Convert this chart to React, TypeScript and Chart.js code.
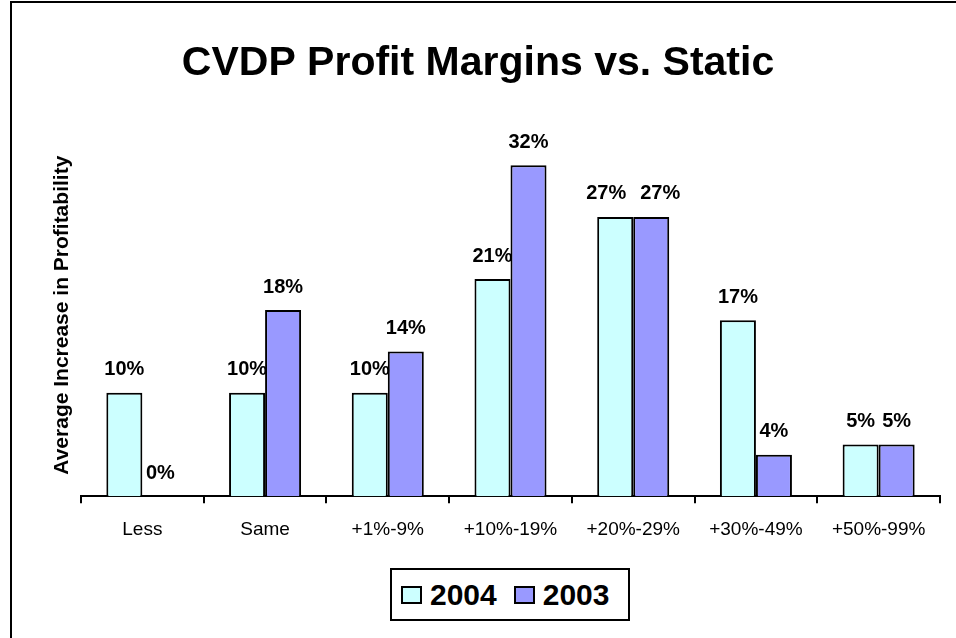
import React, { useEffect, useRef } from "react";
import { Chart, registerables } from "chart.js";

Chart.register(...registerables);

const categories = ["Less", "Same", "+1%-9%", "+10%-19%", "+20%-29%", "+30%-49%", "+50%-99%"];
const series2004 = [10, 10, 10, 21, 27, 17, 5];
const series2003 = [0, 18, 14, 32, 27, 4, 5];
const seriesNames = ["2004", "2003"];
const seriesColors = ["#CCFFFF", "#9999FF"];
const titleText = "CVDP Profit Margins vs. Static";
const yTitleText = "Average Increase in Profitability";

const FONT = '"Liberation Sans", Arial, Helvetica, sans-serif';

const framePlugin = {
  id: "frame",
  afterDraw(chart: any) {
    const ctx = chart.ctx;
    ctx.save();
    ctx.fillStyle = "#000";
    ctx.fillRect(10, 1, 2, chart.height);
    ctx.fillRect(10, 1, chart.width, 2);
    ctx.restore();
  },
};

const labelPlugin = {
  id: "valueLabels",
  afterDatasetsDraw(chart: any) {
    const ctx = chart.ctx;
    ctx.save();
    ctx.font = `bold 20px ${FONT}`;
    ctx.fillStyle = "#000";
    ctx.textAlign = "center";
    ctx.textBaseline = "middle";
    const ds = chart.data.datasets;
    const m0 = chart.getDatasetMeta(0).data;
    const m1 = chart.getDatasetMeta(1).data;
    for (let j = 0; j < m0.length; j++) {
      const t0 = ds[0].data[j] + "%";
      const t1 = ds[1].data[j] + "%";
      let x0 = m0[j].x;
      let x1 = m1[j].x;
      const y0 = m0[j].y - 23;
      const y1 = m1[j].y - 23;
      const w0 = ctx.measureText(t0).width;
      const w1 = ctx.measureText(t1).width;
      const gap = x1 - w1 / 2 - (x0 + w0 / 2);
      if (Math.abs(y0 - y1) < 20 && gap < 0) {
        const push = (14 - gap) / 2;
        x0 -= push;
        x1 += push;
      }
      ctx.fillText(t0, x0, y0);
      ctx.fillText(t1, x1, y1);
    }
    ctx.restore();
  },
};

export default function App() {
  const ref = useRef<HTMLCanvasElement | null>(null);

  useEffect(() => {
    document.body.style.margin = "0";
    const canvas = ref.current;
    if (!canvas) return;
    const chart = new Chart(canvas, {
      type: "bar",
      data: {
        labels: categories,
        datasets: [
          {
            label: seriesNames[0],
            data: series2004,
            backgroundColor: seriesColors[0],
            borderColor: "#000",
            borderWidth: 2,
          },
          {
            label: seriesNames[1],
            data: series2003,
            backgroundColor: seriesColors[1],
            borderColor: "#000",
            borderWidth: 2,
          },
        ],
      },
      options: {
        animation: false,
        responsive: false,
        maintainAspectRatio: false,
        datasets: {
          bar: { barPercentage: 1, categoryPercentage: 0.587 },
        },
        layout: { padding: { left: 16, right: 16, top: 0, bottom: 82 } },
        plugins: {
          legend: { display: false },
          tooltip: { enabled: false },
          title: {
            display: true,
            text: titleText,
            color: "#000",
            font: { family: FONT, size: 41, weight: "bold" },
            padding: { top: 39, bottom: 46 },
          },
        },
        scales: {
          x: {
            grid: {
              display: true,
              drawOnChartArea: false,
              drawTicks: true,
              tickLength: 7,
              color: "#000",
              lineWidth: 2,
              offset: true,
            },
            border: { display: true, color: "#000", width: 2 },
            ticks: {
              color: "#000",
              padding: 15,
              font: { family: FONT, size: 19 },
              maxRotation: 0,
              autoSkip: false,
            },
          },
          y: {
            min: 0,
            max: 35,
            grid: { display: false },
            border: { display: false },
            ticks: { display: false },
            title: {
              display: true,
              text: yTitleText,
              color: "#000",
              font: { family: FONT, size: 21, weight: "bold" },
              padding: { top: 34, bottom: 0 },
            },
            afterFit(scale: any) {
              scale.width = 65;
            },
          },
        },
      },
      plugins: [labelPlugin, framePlugin],
    });
    return () => chart.destroy();
  }, []);

  const legendItem = (i: number, first: boolean) => (
    <div style={{ display: "flex", alignItems: "center", marginLeft: first ? 9 : 17 }}>
      <span
        style={{
          display: "inline-block",
          boxSizing: "border-box",
          width: 21,
          height: 18,
          border: "2px solid #000",
          background: seriesColors[i],
        }}
      />
      <span
        style={{
          marginLeft: 8,
          fontFamily: FONT,
          fontWeight: "bold",
          fontSize: 30,
          lineHeight: "30px",
          color: "#000",
        }}
      >
        {seriesNames[i]}
      </span>
    </div>
  );

  return (
    <div style={{ position: "relative", width: 956, height: 638, background: "#fff" }}>
      <canvas ref={ref} width={956} height={638} style={{ width: 956, height: 638, display: "block" }} />
      <div
        style={{
          position: "absolute",
          left: 390,
          top: 568,
          width: 240,
          height: 53,
          boxSizing: "border-box",
          border: "2px solid #000",
          display: "flex",
          alignItems: "center",
          background: "#fff",
        }}
      >
        {legendItem(0, true)}
        {legendItem(1, false)}
      </div>
    </div>
  );
}
